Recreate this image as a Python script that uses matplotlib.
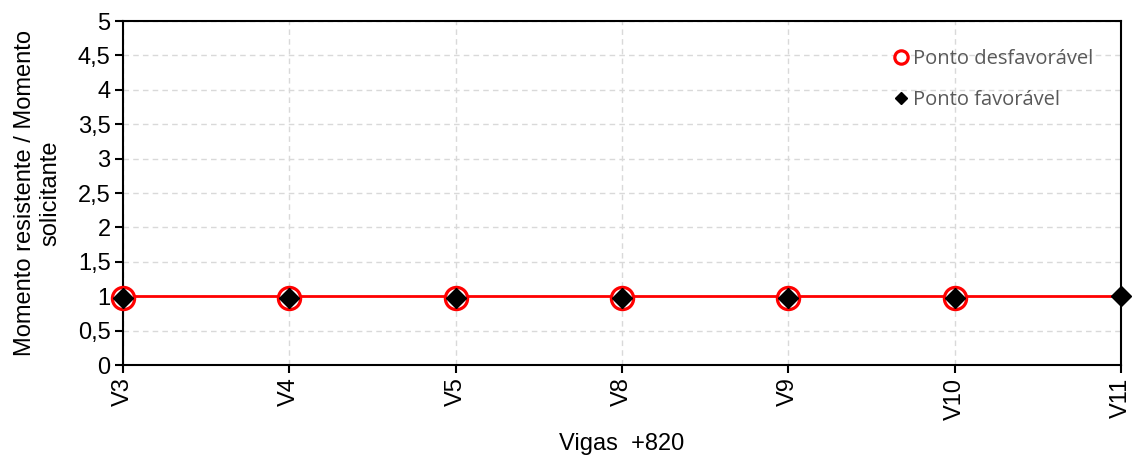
import matplotlib.pyplot as plt
from matplotlib.ticker import FuncFormatter

vigas = ['V3', 'V4', 'V5', 'V8', 'V9', 'V10', 'V11']
desfavoravel = [0.97, 0.97, 0.97, 0.97, 0.97, 0.97]
favoravel = [0.97, 0.97, 0.97, 0.97, 0.97, 0.97, 1.0]
limite = [1, 1, 1, 1, 1, 1, 1]

plt.rcParams['font.family'] = ['Liberation Sans', 'DejaVu Sans']

fig = plt.figure(figsize=(11.34, 4.58), dpi=100)
ax = fig.add_axes([0.1085, 0.203, 0.88, 0.751])

x = list(range(len(vigas)))

# linha de referencia (razao = 1)
ax.plot(x, limite, color='red', lw=2, zorder=2, clip_on=False)

ax.plot(x[:len(desfavoravel)], desfavoravel, ls='none', marker='o', ms=16,
        mfc='white', mec='red', mew=2.3, zorder=3, clip_on=False,
        label='Ponto desfavorável')
ax.plot(x, favoravel, ls='none', marker='D', ms=10, color='black',
        zorder=4, clip_on=False, label='Ponto favorável')

ax.set_xlim(0, len(vigas) - 1)
ax.set_ylim(0, 5)
ax.set_xticks(x)
ax.set_xticklabels(vigas, rotation=90, fontsize=17)
ax.set_yticks([i * 0.5 for i in range(11)])
ax.yaxis.set_major_formatter(FuncFormatter(lambda v, p: f'{v:g}'.replace('.', ',')))
ax.tick_params(axis='y', labelsize=17)
ax.tick_params(direction='out', length=6, width=1.5, color='black', pad=3)

ax.grid(True, color='#d9d9d9', ls=(0, (4, 3)), lw=1)
ax.set_axisbelow(True)
for s in ax.spines.values():
    s.set_linewidth(1.5)

ax.set_ylabel('Momento resistente / Momento\nsolicitante', fontsize=17,
              linespacing=1.2, labelpad=12)
ax.set_xlabel('Vigas  +820', fontsize=17, labelpad=10)

leg = ax.legend(loc='upper right', frameon=False,
                markerscale=0.6, handlelength=0.6, handletextpad=0.25,
                labelspacing=1.05, borderaxespad=1.0,
                prop={'family': ['Open Sans', 'DejaVu Sans'], 'size': 14.5})
for t in leg.get_texts():
    t.set_color('#595959')

plt.savefig('out.png', dpi=100)
plt.close()
